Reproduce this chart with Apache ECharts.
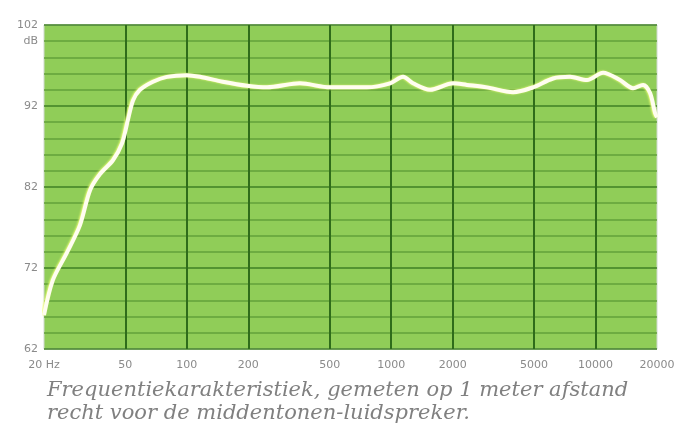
<!DOCTYPE html>
<html><head><meta charset="utf-8">
<script src="https://cdn.jsdelivr.net/npm/echarts@6/dist/echarts.min.js"></script>
<style>html,body{margin:0;padding:0;background:#fff}#c{width:683px;height:433px}</style>
</head><body><div id="c"></div>
<script>
// Frequency response (Hz, dB)
const freqs = [20, 22.1, 25.9, 30, 33.6, 37.6, 43.5, 48.2, 51.5, 54.6, 59, 68.3, 80, 100, 116, 150, 197, 247, 358, 502, 762, 988, 1144, 1280, 1550, 2010, 2350, 2940, 3950, 4950, 6200, 7510, 9090, 10900, 13190, 15270, 17100, 18500, 19580, 20000];
const levels = [66.2, 70.5, 73.9, 77.3, 81.6, 83.6, 85.3, 87.4, 90.3, 92.7, 94.0, 95.0, 95.6, 95.8, 95.6, 95.0, 94.5, 94.3, 94.8, 94.3, 94.3, 94.8, 95.6, 94.8, 94.0, 94.8, 94.6, 94.3, 93.7, 94.3, 95.4, 95.6, 95.2, 96.1, 95.2, 94.2, 94.6, 93.6, 91.1, 90.6];
const xTicks = [20, 50, 100, 200, 500, 1000, 2000, 5000, 10000, 20000];
const xTickLabels = ['20 Hz', '50', '100', '200', '500', '1000', '2000', '5000', '10000', '20000'];
const yTicks = [62, 72, 82, 92, 100, 102];
const yTickLabels = ['62', '72', '82', '92', 'dB', '102'];
const caption = ['Frequentiekarakteristiek, gemeten op 1 meter afstand', 'recht voor de middentonen-luidspreker.'];

const chart = echarts.init(document.getElementById('c'), null, {renderer: 'canvas'});
const data = freqs.map((f, i) => [f, levels[i]]);
chart.setOption({
  animation: false,
  backgroundColor: '#fff',
  grid: {left: 44, right: 26, top: 25, bottom: 84, show: true, backgroundColor: '#90cd58', borderColor: '#cfd8cf', borderWidth: 1},
  xAxis: {
    type: 'log', logBase: 10, min: 20, max: 20000,
    axisLine: {show: false}, axisTick: {show: false}, splitLine: {show: false}, minorSplitLine: {show: false},
    axisLabel: {
      customValues: xTicks,
      color: '#8a8a8a', fontSize: 11, fontFamily: 'DejaVu Sans', margin: 11,
      formatter: v => { const i = xTicks.findIndex(t => Math.abs(t - v) / t < 1e-6); return i >= 0 ? xTickLabels[i] : ''; }
    }
  },
  yAxis: {
    type: 'value', min: 62, max: 102, interval: 2,
    axisLine: {show: false}, axisTick: {show: false},
    splitLine: {show: true, lineStyle: {color: ['#3f7f25', '#62a13a', '#62a13a', '#62a13a', '#62a13a'], width: 1.5}},
    axisLabel: {
      color: '#8a8a8a', fontSize: 11, fontFamily: 'DejaVu Sans', margin: 6,
      formatter: v => { const i = yTicks.indexOf(v); return i >= 0 ? yTickLabels[i] : ''; }
    }
  },
  series: [{
    type: 'line', data: data, smooth: 0.3, symbol: 'none',
    lineStyle: {color: '#fffdf0', width: 4, shadowColor: 'rgba(240,255,120,0.9)', shadowBlur: 2, shadowOffsetX: -1},
    markLine: {
      silent: true, symbol: 'none', label: {show: false},
      lineStyle: {color: '#2f6c1a', width: 2, type: 'solid'},
      data: xTicks.slice(1, -1).map(f => ({xAxis: f}))
    },
    z: 5
  }],
  title: [{
    text: caption.join('\n'), left: 42, top: 374,
    textStyle: {color: '#808080', fontSize: 21, fontStyle: 'italic', fontWeight: 'normal', fontFamily: 'DejaVu Serif', lineHeight: 23}
  }]
});
</script></body></html>
